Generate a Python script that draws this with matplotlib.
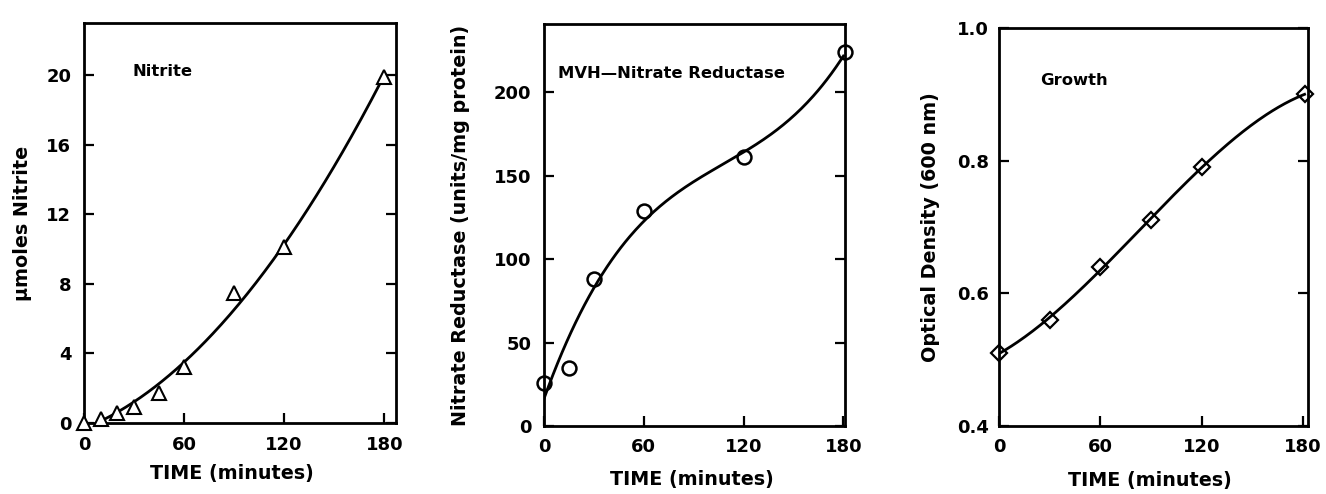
"""Three-panel time course: nitrite, nitrate reductase, growth."""

import numpy as np
import matplotlib
matplotlib.use("Agg")
import matplotlib.pyplot as plt

plt.rcParams["font.family"] = ["DejaVu Sans"]
plt.rcParams["font.weight"] = "bold"

# Nitrite (triangles)
nitrite_time = [0, 10, 20, 30, 45, 60, 90, 120, 180]
nitrite_umol = [0.0, 0.25, 0.6, 0.9, 1.7, 3.2, 7.5, 10.1, 19.9]

# MVH-nitrate reductase (circles)
nr_time = [0, 15, 30, 60, 120, 181]
nr_activity = [26, 35, 88, 129, 161, 224]

# Growth (diamonds)
od_time = [0, 30, 60, 90, 120, 181]
od_600 = [0.51, 0.56, 0.64, 0.71, 0.79, 0.90]

time_ticks = [0, 60, 120, 180]
LABEL_FS = 13.8
NOTE_FS = 11.8


def style_axes(ax, yticks, ylim, xlim, xlab_pos, ylab_pos, ypad):
    ax.set_xlim(*xlim)
    ax.set_ylim(*ylim)
    ax.set_xticks(time_ticks)
    ax.set_yticks(yticks)
    ax.tick_params(direction="in", length=7, width=1.6, labelsize=13,
                   right=True, top=False)
    ax.tick_params(axis="x", pad=9)
    ax.tick_params(axis="y", pad=ypad)
    for s in ax.spines.values():
        s.set_linewidth(2)
    ax.set_xlabel("TIME (minutes)", fontsize=LABEL_FS, fontweight="bold")
    ax.xaxis.label.set_va("center")
    ax.yaxis.label.set_va("center")
    ax.xaxis.set_label_coords(*xlab_pos)
    ax.yaxis.set_label_coords(*ylab_pos)


fig = plt.figure(figsize=(13.26, 4.94), dpi=100)

# panel 1: nitrite
ax1 = fig.add_axes([0.0633, 0.1437, 0.2353, 0.8097])
ax1.plot(nitrite_time, nitrite_umol, "^", ms=10, mfc="white", mec="black",
         mew=1.5, clip_on=False, zorder=3)
c1 = np.polyfit(nitrite_time, nitrite_umol, 2)
t1 = np.linspace(8, 180, 200)
ax1.plot(t1, np.polyval(c1, t1), color="black", lw=2)
ax1.set_ylabel("\u03bcmoles Nitrite", fontsize=LABEL_FS, fontweight="bold")
style_axes(ax1, [0, 4, 8, 12, 16, 20], (0, 23), (0, 187),
           (0.474, -0.125), (-0.196, 0.5), 9)
ax1.text(0.157, 0.88, "Nitrite", transform=ax1.transAxes, fontsize=NOTE_FS,
         fontweight="bold", va="center", ha="left")

# panel 2: nitrate reductase
ax2 = fig.add_axes([0.4103, 0.1377, 0.2270, 0.8138])
ax2.plot(nr_time, nr_activity, "o", ms=10, mfc="none", mec="black",
         mew=1.8, clip_on=False, zorder=3)
c2 = np.polyfit(nr_time, nr_activity, 3)
t2 = np.linspace(0, 180, 200)
ax2.plot(t2, np.polyval(c2, t2), color="black", lw=2)
ax2.set_ylabel("Nitrate Reductase (units/mg protein)", fontsize=LABEL_FS,
               fontweight="bold")
style_axes(ax2, [0, 50, 100, 150, 200], (0, 241), (0, 181),
           (0.49, -0.134), (-0.279, 0.5), 9)
ax2.text(0.047, 0.878, "MVH\u2014Nitrate Reductase", transform=ax2.transAxes,
         fontsize=NOTE_FS, fontweight="bold", va="center", ha="left")

# panel 3: growth
ax3 = fig.add_axes([0.7534, 0.1377, 0.2330, 0.8057])
ax3.plot(od_time, od_600, "D", ms=8, mfc="none", mec="black",
         mew=1.6, clip_on=False, zorder=3)
c3 = np.polyfit(od_time, od_600, 3)
t3 = np.linspace(0, 181, 200)
ax3.plot(t3, np.polyval(c3, t3), color="black", lw=2)
ax3.set_ylabel("Optical Density (600 nm)", fontsize=LABEL_FS, fontweight="bold")
style_axes(ax3, [0.4, 0.6, 0.8, 1.0], (0.4, 1.0), (0, 183),
           (0.489, -0.136), (-0.223, 0.5), 7)
ax3.yaxis.set_major_formatter(matplotlib.ticker.FormatStrFormatter("%.1f"))
ax3.text(0.133, 0.869, "Growth", transform=ax3.transAxes, fontsize=NOTE_FS,
         fontweight="bold", va="center", ha="left")

fig.savefig("out.png", dpi=100)
